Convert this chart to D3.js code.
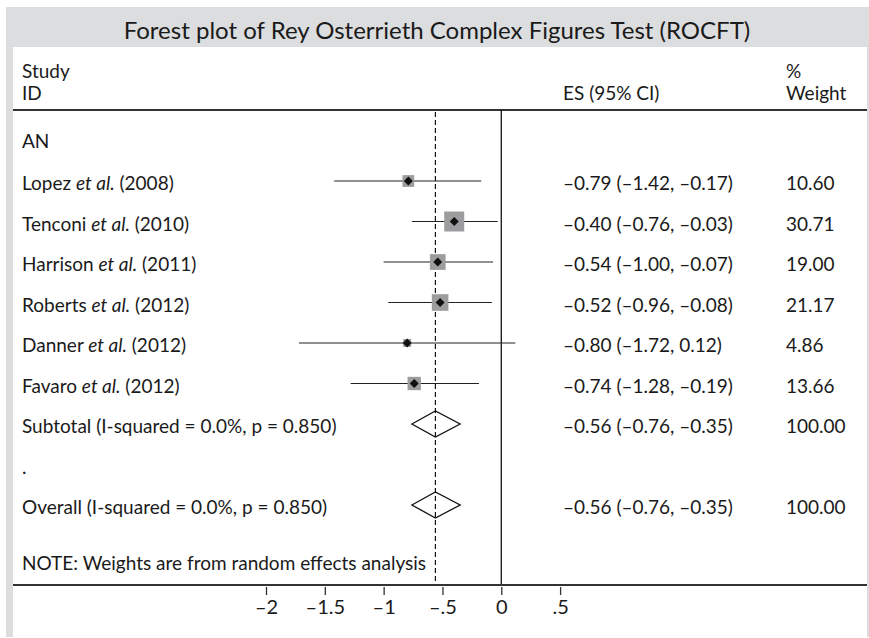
<!DOCTYPE html>
<html>
<head>
<meta charset="utf-8">
<script src="https://cdn.jsdelivr.net/npm/d3@7/dist/d3.min.js"></script>
<style>
  html, body { margin: 0; padding: 0; background: #ffffff; }
  svg { display: block; }
  text { font-family: Lato, "Open Sans", sans-serif; fill: #1a1a1a; }
</style>
</head>
<body>
<svg id="chart" width="869" height="638"></svg>
<script>
// ---------------- data ----------------
const title = "Forest plot of Rey Osterrieth Complex Figures Test (ROCFT)";
const groupLabel = "AN";
const authors = ["Lopez", "Tenconi", "Harrison", "Roberts", "Danner", "Favaro"];
const years = ["2008", "2010", "2011", "2012", "2012", "2012"];
const es = [-0.79, -0.40, -0.54, -0.52, -0.80, -0.74];
const ciLow = [-1.42, -0.76, -1.00, -0.96, -1.72, -1.28];
const ciHigh = [-0.17, -0.03, -0.07, -0.08, 0.12, -0.19];
const weights = [10.60, 30.71, 19.00, 21.17, 4.86, 13.66];
const summaryLabels = ["Subtotal (I-squared = 0.0%, p = 0.850)", "Overall (I-squared = 0.0%, p = 0.850)"];
const summaryES = [-0.56, -0.56];
const summaryLow = [-0.76, -0.76];
const summaryHigh = [-0.35, -0.35];
const summaryWeight = [100.00, 100.00];
const tickValues = [-2, -1.5, -1, -0.5, 0, 0.5];
const tickLabels = ["\u20132", "\u20131.5", "\u20131", "\u2013.5", "0", ".5"];
const note = "NOTE: Weights are from random effects analysis";

// ---------------- helpers ----------------
const dash = v => (v < 0 ? "\u2013" : "") + Math.abs(v).toFixed(2);
const esText = (e, l, h) => `${dash(e)} (${dash(l)}, ${dash(h)})`;

const svg = d3.select("#chart");
const W = 869, H = 638;

// frame
svg.append("rect").attr("x", 6).attr("y", 7).attr("width", W - 6).attr("height", H - 8).attr("fill", "#dcdddf");
svg.append("rect").attr("x", 13).attr("y", 47).attr("width", 854).attr("height", H - 47).attr("fill", "#ffffff");

// title
svg.append("text").attr("x", 437).attr("y", 39).attr("text-anchor", "middle")
  .style("font-size", "24px").text(title);

// scales
const x = d3.scaleLinear().domain([-2, 0.5]).range([266, 560.1]);
const y = d3.scaleLinear().domain([0, 9]).range([140.5, 505]);
const sz = d3.scaleSqrt().domain([0, 30.71]).range([0, 20]);

const topY = 110, axisY = 585;
const fs = "19px";   // labels
const fn = "19px";   // numeric columns
const labelX = 22, esX = 563, wX = 786;

// headers
const hdr = svg.append("g").style("font-size", fs);
hdr.append("text").attr("x", labelX).attr("y", 78).text("Study");
hdr.append("text").attr("x", labelX).attr("y", 100).text("ID");
hdr.append("text").attr("x", esX).attr("y", 100).style("font-size", fn).text("ES (95% CI)");
hdr.append("text").attr("x", wX).attr("y", 78).style("font-size", fn).text("%");
hdr.append("text").attr("x", wX).attr("y", 100).style("font-size", fn).text("Weight");

// rules
svg.append("line").attr("x1", 13).attr("x2", 867).attr("y1", topY).attr("y2", topY)
  .attr("stroke", "#333").attr("stroke-width", 2);

// reference lines
svg.append("line").attr("x1", x(0)).attr("x2", x(0)).attr("y1", topY).attr("y2", axisY)
  .attr("stroke", "#111").attr("stroke-width", 1.3);
svg.append("line").attr("x1", x(summaryES[1])).attr("x2", x(summaryES[1])).attr("y1", topY + 2).attr("y2", axisY)
  .attr("stroke", "#111").attr("stroke-width", 1.2).attr("stroke-dasharray", "5,3");

// group label
svg.append("text").attr("x", labelX).attr("y", y(0) + 7).style("font-size", fs).text(groupLabel);

// study rows
const rows = svg.append("g");
authors.forEach((a, i) => {
  const yy = y(i + 1);
  rows.append("line").attr("x1", x(ciLow[i])).attr("x2", x(ciHigh[i])).attr("y1", yy).attr("y2", yy)
    .attr("stroke", "#222").attr("stroke-width", 1.2);
  const s = sz(weights[i]);
  rows.append("rect").attr("x", x(es[i]) - s / 2).attr("y", yy - s / 2).attr("width", s).attr("height", s)
    .attr("fill", "#9d9d9f");
  const d = 4.5;
  rows.append("path").attr("d", `M${x(es[i]) - d},${yy}L${x(es[i])},${yy - d}L${x(es[i]) + d},${yy}L${x(es[i])},${yy + d}Z`)
    .attr("fill", "#111");
  const t = rows.append("text").attr("x", labelX).attr("y", yy + 9).style("font-size", fs);
  t.append("tspan").text(a + " ");
  t.append("tspan").style("font-style", "italic").text("et al.");
  t.append("tspan").text(` (${years[i]})`);
  rows.append("text").attr("x", esX).attr("y", yy + 9).style("font-size", fn).text(esText(es[i], ciLow[i], ciHigh[i]));
  rows.append("text").attr("x", wX).attr("y", yy + 9).style("font-size", fn).text(weights[i].toFixed(2));
});

// summaries
[7, 9].forEach((r, k) => {
  const yy = y(r);
  const hh = 13;
  svg.append("path")
    .attr("d", `M${x(summaryLow[k])},${yy}L${x(summaryES[k])},${yy - hh}L${x(summaryHigh[k])},${yy}L${x(summaryES[k])},${yy + hh}Z`)
    .attr("fill", "none").attr("stroke", "#111").attr("stroke-width", 1.3);
  svg.append("text").attr("x", labelX).attr("y", yy + 9).style("font-size", fs).text(summaryLabels[k]);
  svg.append("text").attr("x", esX).attr("y", yy + 9).style("font-size", fn).text(esText(summaryES[k], summaryLow[k], summaryHigh[k]));
  svg.append("text").attr("x", wX).attr("y", yy + 9).style("font-size", fn).text(summaryWeight[k].toFixed(2));
});
svg.append("text").attr("x", labelX).attr("y", y(8) + 9).style("font-size", fs).text(".");

// note
svg.append("text").attr("x", labelX).attr("y", 570).style("font-size", fs).text(note);

// axis
svg.append("line").attr("x1", 13).attr("x2", 867).attr("y1", axisY).attr("y2", axisY)
  .attr("stroke", "#333").attr("stroke-width", 2);
const axis = d3.axisBottom(x).tickValues(tickValues).tickSize(8).tickPadding(5)
  .tickFormat((d, i) => tickLabels[i]);
const ag = svg.append("g").attr("transform", `translate(0,${axisY + 2})`).call(axis);
ag.select(".domain").remove();
ag.selectAll(".tick line").attr("stroke", "#333").attr("stroke-width", 1.3);
ag.selectAll(".tick text").style("font-family", "Lato, 'Open Sans', sans-serif").style("font-size", "20px").attr("fill", "#1a1a1a");
</script>
</body>
</html>
